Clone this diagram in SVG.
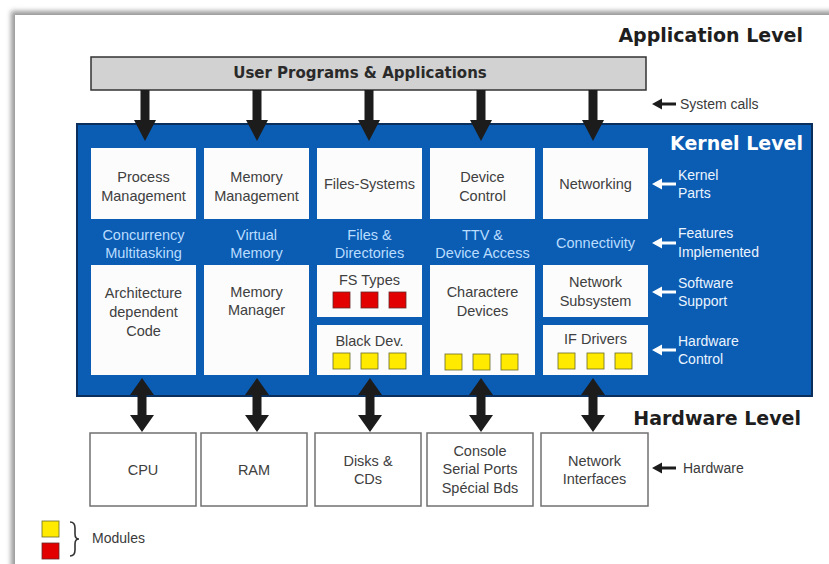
<svg xmlns="http://www.w3.org/2000/svg" xmlns:xlink="http://www.w3.org/1999/xlink" width="829" height="564" viewBox="0 0 829 564">
<style>
.lvl{font-family:"DejaVu Sans",sans-serif;font-weight:bold;font-size:19px;text-anchor:end}
.t{font-family:"Liberation Sans",Arial,sans-serif;font-size:14.5px;fill:#404040;text-anchor:middle}
.f{font-family:"Liberation Sans",Arial,sans-serif;font-size:14.5px;fill:#b9dcff;text-anchor:middle}
.w{font-family:"Liberation Sans",Arial,sans-serif;font-size:14px;fill:#eaf4ff}
.d{font-family:"Liberation Sans",Arial,sans-serif;font-size:14px;fill:#3a3a3a}
.box{fill:#fcfcfc;stroke:none}
.hw{fill:#fff;stroke:#707070;stroke-width:1.5}
.red{fill:#e20000;stroke:#6a2a2a;stroke-width:0.8}
.yel{fill:#ffea00;stroke:#6a6a2a;stroke-width:0.8}
.ar{fill:#1c1c1c}
.wa{fill:#ffffff}
</style>
<defs>
<filter id="sh" x="-5%" y="-5%" width="110%" height="110%"><feGaussianBlur stdDeviation="2.5"/></filter>
<polygon id="down" points="-4.5,0 4.5,0 4.5,30 11,30 0,51 -11,30 -4.5,30"/>
<polygon id="both" points="0,0 12,17 4.5,17 4.5,37 12,37 0,54 -12,37 -4.5,37 -4.5,17 -12,17"/>
<polygon id="left" points="0,0 10,-5.5 10,-1.6 24,-1.6 24,1.6 10,1.6 10,5.5"/>
</defs>
<rect width="829" height="564" fill="#ffffff"/>
<rect x="11" y="11" width="840" height="580" fill="#9a9a9a" filter="url(#sh)"/>
<rect x="15" y="15" width="840" height="580" fill="#ffffff"/>

<text class="lvl" x="803" y="42" fill="#1e1e1e">Application Level</text>

<g id="user-programs">
<rect x="91" y="57" width="555" height="33" fill="#d2d2d2" stroke="#333" stroke-width="1.5"/>
<text x="360" y="78" font-family="DejaVu Sans,sans-serif" font-weight="bold" font-size="15" fill="#2a2a2a" text-anchor="middle">User Programs &amp; Applications</text>
</g>

<g id="system-calls">
<use xlink:href="#left" href="#left" x="652" y="104" class="ar"/>
<text class="d" x="680" y="109">System calls</text>
</g>

<g id="kernel-level">
<rect x="77" y="124" width="735" height="272" fill="#0b5cb3" stroke="#0a2f5c" stroke-width="2"/>
<text class="lvl" x="803" y="150" fill="#ffffff">Kernel Level</text>
</g>

<g id="process-management"><rect class="box" x="91" y="148" width="105" height="71"/><text class="t" x="143.5" y="182">Process</text><text class="t" x="143.5" y="201">Management</text></g>
<g id="memory-management"><rect class="box" x="204" y="148" width="105" height="71"/><text class="t" x="256.5" y="182">Memory</text><text class="t" x="256.5" y="201">Management</text></g>
<g id="files-systems"><rect class="box" x="317" y="148" width="105" height="71"/><text class="t" x="369.5" y="189">Files-Systems</text></g>
<g id="device-control"><rect class="box" x="430" y="148" width="105" height="71"/><text class="t" x="482.5" y="182">Device</text><text class="t" x="482.5" y="201">Control</text></g>
<g id="networking"><rect class="box" x="543" y="148" width="105" height="71"/><text class="t" x="595.5" y="189">Networking</text></g>

<g id="features">
<text class="f" x="143.5" y="240">Concurrency</text><text class="f" x="143.5" y="258">Multitasking</text>
<text class="f" x="256.5" y="240">Virtual</text><text class="f" x="256.5" y="258">Memory</text>
<text class="f" x="369.5" y="240">Files &amp;</text><text class="f" x="369.5" y="258">Directories</text>
<text class="f" x="482.5" y="240">TTV &amp;</text><text class="f" x="482.5" y="258">Device Access</text>
<text class="f" x="595.5" y="248">Connectivity</text>
</g>

<g id="architecture-code"><rect class="box" x="91" y="265" width="105" height="110"/><text class="t" x="143.5" y="298">Architecture</text><text class="t" x="143.5" y="317">dependent</text><text class="t" x="143.5" y="336">Code</text></g>
<g id="memory-manager"><rect class="box" x="204" y="265" width="105" height="110"/><text class="t" x="256.5" y="297">Memory</text><text class="t" x="256.5" y="315">Manager</text></g>
<g id="fs-types"><rect class="box" x="317" y="265" width="105" height="52"/><text class="t" x="369.5" y="285">FS Types</text>
<rect class="red" x="333" y="292" width="17" height="16"/><rect class="red" x="361" y="292" width="17" height="16"/><rect class="red" x="389" y="292" width="17" height="16"/></g>
<g id="black-dev"><rect class="box" x="317" y="325" width="105" height="50"/><text class="t" x="369.5" y="346">Black Dev.</text>
<rect class="yel" x="333" y="353" width="17" height="16"/><rect class="yel" x="361" y="353" width="17" height="16"/><rect class="yel" x="389" y="353" width="17" height="16"/></g>
<g id="charactere-devices"><rect class="box" x="430" y="265" width="105" height="110"/><text class="t" x="482.5" y="297">Charactere</text><text class="t" x="482.5" y="316">Devices</text>
<rect class="yel" x="445" y="354" width="17" height="16"/><rect class="yel" x="473" y="354" width="17" height="16"/><rect class="yel" x="501" y="354" width="17" height="16"/></g>
<g id="network-subsystem"><rect class="box" x="543" y="265" width="105" height="52"/><text class="t" x="595.5" y="287">Network</text><text class="t" x="595.5" y="306">Subsystem</text></g>
<g id="if-drivers"><rect class="box" x="543" y="325" width="105" height="50"/><text class="t" x="595.5" y="344">IF Drivers</text>
<rect class="yel" x="558" y="353" width="17" height="16"/><rect class="yel" x="587" y="353" width="17" height="16"/><rect class="yel" x="615" y="353" width="17" height="16"/></g>

<g id="kernel-legend">
<use xlink:href="#left" href="#left" x="652" y="184" class="wa"/><text class="w" x="678" y="180">Kernel</text><text class="w" x="678" y="198">Parts</text>
<use xlink:href="#left" href="#left" x="652" y="243" class="wa"/><text class="w" x="678" y="238">Features</text><text class="w" x="678" y="257">Implemented</text>
<use xlink:href="#left" href="#left" x="652" y="292" class="wa"/><text class="w" x="678" y="288">Software</text><text class="w" x="678" y="306">Support</text>
<use xlink:href="#left" href="#left" x="652" y="350" class="wa"/><text class="w" x="678" y="346">Hardware</text><text class="w" x="678" y="364">Control</text>
</g>

<text class="lvl" x="801" y="425" fill="#1e1e1e">Hardware Level</text>

<g id="cpu"><rect class="hw" x="90" y="433" width="106" height="73"/><text class="t" x="143" y="475">CPU</text></g>
<g id="ram"><rect class="hw" x="201" y="433" width="106" height="73"/><text class="t" x="254" y="475">RAM</text></g>
<g id="disks"><rect class="hw" x="315" y="433" width="106" height="73"/><text class="t" x="368" y="466">Disks &amp;</text><text class="t" x="368" y="484">CDs</text></g>
<g id="console"><rect class="hw" x="427" y="433" width="106" height="73"/><text class="t" x="480" y="456">Console</text><text class="t" x="480" y="474">Serial Ports</text><text class="t" x="480" y="493">Spécial Bds</text></g>
<g id="network-interfaces"><rect class="hw" x="541" y="433" width="107" height="73"/><text class="t" x="594.5" y="466">Network</text><text class="t" x="594.5" y="484">Interfaces</text></g>

<g id="hardware-label">
<use xlink:href="#left" href="#left" x="652" y="468" class="ar"/>
<text class="d" x="683" y="473">Hardware</text>
</g>

<g id="connectors">
<use xlink:href="#down" href="#down" x="145" y="90" class="ar"/>
<use xlink:href="#down" href="#down" x="257" y="90" class="ar"/>
<use xlink:href="#down" href="#down" x="369" y="90" class="ar"/>
<use xlink:href="#down" href="#down" x="481" y="90" class="ar"/>
<use xlink:href="#down" href="#down" x="593" y="90" class="ar"/>
<use xlink:href="#both" href="#both" x="142" y="378" class="ar"/>
<use xlink:href="#both" href="#both" x="257" y="378" class="ar"/>
<use xlink:href="#both" href="#both" x="370" y="378" class="ar"/>
<use xlink:href="#both" href="#both" x="481" y="378" class="ar"/>
<use xlink:href="#both" href="#both" x="593" y="378" class="ar"/>
</g>

<g id="legend">
<rect class="yel" x="42" y="521" width="17" height="16"/>
<rect class="red" x="42" y="543" width="17" height="16"/>
<path d="M70,522 Q75,522 75,528 L75,534 Q75,539 79,539 Q75,539 75,544 L75,550 Q75,556 70,556" fill="none" stroke="#333" stroke-width="1.6"/>
<text class="d" x="92" y="543">Modules</text>
</g>
</svg>
